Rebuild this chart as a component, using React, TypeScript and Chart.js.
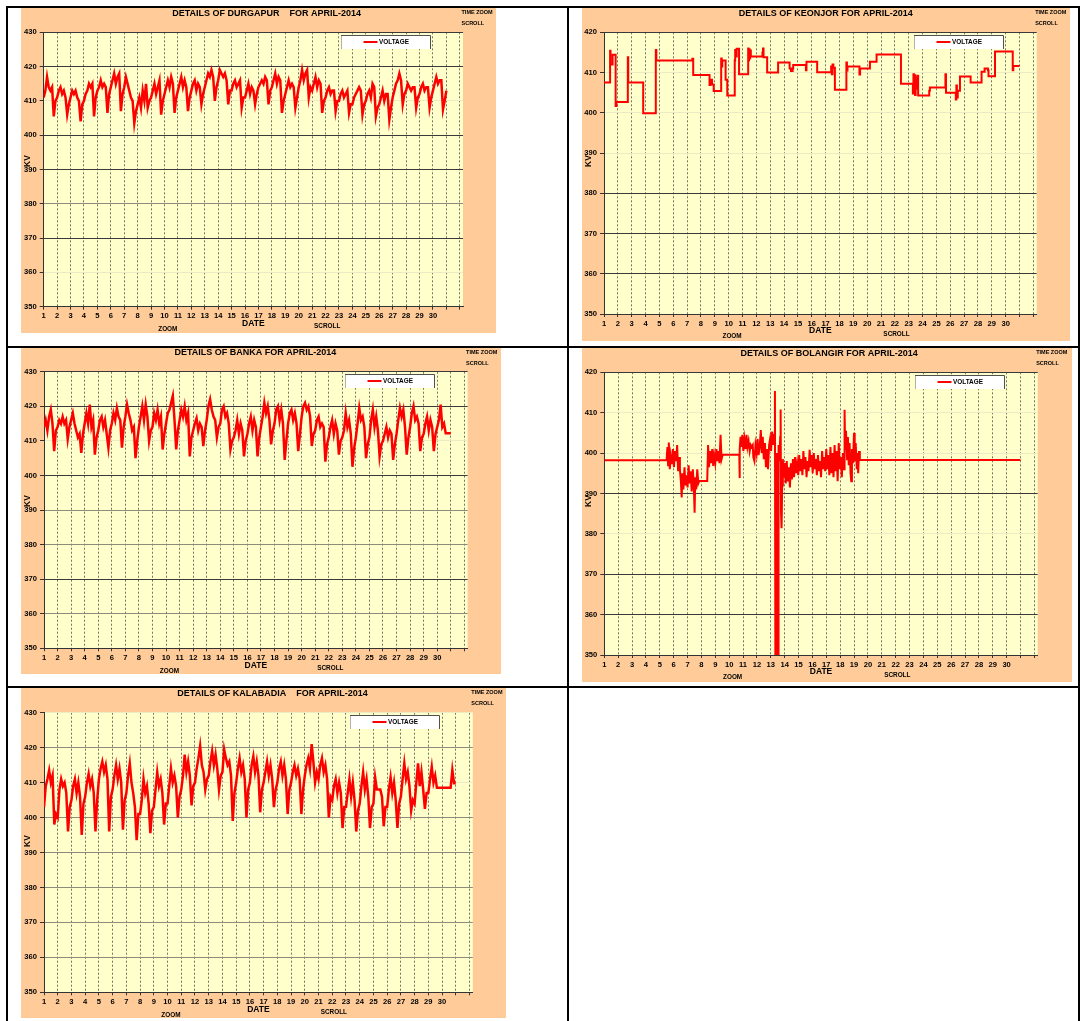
import React, { useEffect, useRef } from 'react';
import { Chart, registerables } from 'chart.js';

Chart.register(...registerables);

const FONT = 'Arial, "Liberation Sans", Helvetica, sans-serif';

// ---------- axis / tick data ----------
const X_TICK_LABELS = ['1','2','3','4','5','6','7','8','9','10','11','12','13','14','15','16','17','18','19','20','21','22','23','24','25','26','27','28','29','30'];
const X_MIN = 1;
const X_MAX = 32.24;
const SAMPLES_PER_DAY = 8; // readings every 3 hours, from 1 April 00:00

// ---------- series values (kV) ----------
const DURGAPUR_KV = [
  411, 413, 417, 414, 413, 414, 405.5, 410,
  411, 413, 414, 412, 413, 411, 406, 409,
  411, 413, 412, 413, 411, 410, 404, 409,
  410, 412, 413, 415, 414, 415, 405.5, 411,
  413, 414, 416, 414, 415, 414, 406.5, 412,
  414, 416, 418, 415, 417, 418, 407, 412,
  414, 417, 415, 413, 411, 410, 403.5, 407,
  409, 411, 408, 413, 410, 415, 408, 410,
  411, 413, 415, 412, 414, 416, 406, 410,
  412, 414, 416, 414, 417, 415, 406.5, 411,
  413, 415, 417, 414, 416, 414, 407, 411,
  413, 415, 416, 413, 415, 414, 409, 412,
  414, 416, 418, 417, 419, 417, 410, 414,
  416, 419, 418, 417, 418, 416, 409, 413,
  413, 415, 416, 414, 415, 416, 408, 411,
  411, 413, 415, 412, 414, 413, 409, 412,
  414, 415, 416, 415, 417, 416, 409, 413,
  414, 416, 418, 415, 417, 416, 406.5, 410,
  412, 414, 416, 414, 415, 414, 408, 411,
  414, 416, 419, 416, 418, 419, 411, 414,
  413, 415, 417, 414, 416, 415, 406.5, 410,
  411, 413, 414, 412, 413, 413, 407, 410,
  410, 412, 413, 411, 412, 413, 406.5, 409,
  409, 411, 412, 413, 414, 413, 406, 409,
  410, 412, 413, 411, 415, 414, 405.5, 408,
  409, 411, 413, 410, 412, 412, 404.5, 408,
  411, 413, 415, 416, 418, 416, 409, 412,
  413, 415, 414, 413, 414, 414, 408, 411,
  412, 414, 415, 413, 414, 414, 408, 411,
  413, 415, 417, 415, 416, 416, 407.5, 410,
  413,
];

const BANKA_KV = [
  414, 416, 413, 417, 419, 415, 407, 413,
  414, 416, 415, 417, 415, 416, 410.5, 414,
  416, 418, 415, 413, 411, 412, 406.5, 412,
  415, 418, 415, 420.5, 414, 416, 406, 411,
  413, 416, 417, 414, 416, 412, 408, 413,
  415, 418, 416, 419.5, 417, 416, 408, 414,
  417, 420.5, 418, 416, 413, 414, 405, 410,
  414, 417, 420, 416, 420.5, 417, 410, 413,
  414, 418, 416, 419, 415, 417, 407.5, 412,
  415, 418, 419, 421, 423, 416, 407.5, 413,
  416, 419, 417, 420, 416, 418, 405.5, 411,
  413, 415, 416.5, 413, 415, 414, 408.5, 413,
  416, 420, 422, 419, 417, 416, 411, 414,
  415, 419, 420, 417, 418, 415, 407.5, 410,
  411, 413, 416, 412, 415, 413, 405.5, 410,
  412, 415, 417, 413, 416, 414, 405.5, 411,
  414, 417, 421, 418, 420, 416, 409, 413,
  415, 419, 420, 416, 419, 415, 404.5, 410,
  415, 418, 419, 416, 418, 415, 407, 412,
  417, 420, 421, 419, 420, 417, 408.5, 412,
  413, 416, 417, 414, 415, 414, 404, 409,
  411, 414, 416, 412, 415, 413, 406, 410,
  411, 413, 418, 414, 416, 412, 402.5, 408,
  411, 415, 419.5, 416, 417, 414, 405, 409,
  411, 416, 419, 414, 417, 413, 405.5, 409,
  410, 412, 414, 411, 413, 412, 404.5, 409,
  412, 416, 419.5, 417, 419, 414, 406, 411,
  414, 418, 420, 416, 417, 415, 407, 411,
  412, 415, 417, 413, 416, 414, 407, 412,
  414, 416, 420.5, 414, 415, 412.2, 412.2, 412.2,
  412.2,
];

const KALABADIA_KV = [
  403, 409, 411, 413.5, 410, 412, 398, 401,
  400, 408, 411, 409, 410, 407, 396, 403,
  405, 409, 411, 407, 410, 406, 395, 404,
  406, 410, 412.5, 409, 411, 407, 396, 405,
  411, 414, 416, 413, 415, 411, 396, 406,
  408, 412, 415, 411, 414, 410, 396.5, 405,
  407, 412, 415.5, 410, 407, 403, 393.5, 401,
  401, 405, 411, 407, 409, 404, 395.5, 402,
  403, 408, 413, 409, 411, 407, 398, 404,
  404, 409, 414, 410, 412, 409, 400, 406,
  408, 412, 418, 413, 416, 412, 403.5, 409,
  410, 414, 417, 420.5, 415, 413, 408, 411,
  412, 416, 419, 415, 418, 414, 408, 412,
  413, 419.5, 417, 415, 416, 412, 399, 407,
  410, 414, 417, 413, 415, 411, 400, 408,
  410, 415, 417.5, 413, 416, 412, 401.5, 408,
  410, 413, 416, 412, 415, 411, 403, 408,
  410, 414, 416, 412, 415, 411, 401, 408,
  410, 413, 415, 412, 414, 411, 401, 408,
  412, 415, 417, 414, 421, 416, 410, 413,
  411, 415, 417, 413, 415, 411, 400, 406,
  405, 409, 411, 407, 410, 407, 397, 403,
  403, 407, 411, 406, 410, 405, 396, 402,
  404, 409, 413, 408, 411, 406, 397, 403,
  404, 411.5, 408, 408, 408, 406, 397.5, 403,
  403, 408, 411.5, 407, 410, 405, 397, 404,
  406, 411, 415.5, 411, 413, 409, 402, 405,
  404, 410, 415.5, 409, 413, 408, 402.5, 407,
  407, 411, 414.5, 410, 412, 408.5, 408.5, 408.5,
  408.5, 408.5, 408.5, 408.5, 408.5, 408.5, 413.6, 409.8,
  409.8,
];

// [day, kV] : each value holds until the next day mark (step line)
const KEONJOR_STEPS: [number, number][] = [
  [1.00, 407.5], [1.44, 415.4], [1.47, 412.0], [1.62, 414.4], [1.84, 401.7], [1.90, 402.7],
  [2.72, 413.8], [2.75, 407.5], [3.83, 399.9], [4.74, 415.6], [4.78, 413.0], [7.38, 413.4],
  [7.44, 409.4], [8.62, 406.9], [8.68, 408.2], [8.80, 407.0], [8.92, 405.4], [9.46, 413.5],
  [9.50, 411.5], [9.54, 413.0], [9.78, 408.2], [9.90, 404.3], [10.44, 413.0], [10.47, 415.6],
  [10.55, 414.0], [10.58, 415.9], [10.75, 409.6], [11.41, 416.0], [11.44, 413.0], [11.47, 415.8],
  [11.51, 413.5], [11.55, 415.5], [11.60, 414.0], [12.44, 415.0], [12.48, 416.0], [12.52, 413.8],
  [12.78, 410.0], [13.57, 412.5], [14.40, 411.0], [14.50, 410.4], [14.62, 411.0], [14.66, 411.9],
  [15.58, 410.6], [15.62, 412.7], [16.39, 410.1], [17.40, 411.5], [17.45, 409.6], [17.50, 412.0],
  [17.56, 411.2], [17.67, 405.7], [18.50, 412.5], [18.54, 410.5], [18.58, 411.5], [19.44, 409.5],
  [19.49, 411.0], [20.20, 412.7], [20.68, 414.5], [22.44, 407.2], [23.30, 404.8], [23.34, 409.6],
  [23.38, 405.0], [23.42, 409.3], [23.46, 404.4], [23.50, 408.8], [23.55, 406.0], [23.62, 409.2],
  [23.68, 404.3], [24.48, 405.5], [24.53, 406.3], [25.65, 409.6], [25.69, 405.0], [26.40, 403.3],
  [26.44, 406.8], [26.48, 403.8], [26.54, 405.5], [26.70, 409.0], [27.47, 407.5], [28.26, 410.2],
  [28.48, 411.0], [28.72, 410.6], [28.76, 409.1], [29.23, 415.2], [30.51, 410.6], [30.55, 411.6],
  [31.00, 411.6],
];

// [day, kV]
const BOLANGIR_POINTS: [number, number][] = [
  [1, 398.2], [5.49, 398.2],
  [5.55, 401.5], [5.6, 397], [5.65, 402.6], [5.72, 396], [5.8, 399.5], [5.88, 397.5], [5.95, 401],
  [6.02, 396.5], [6.1, 400.5], [6.18, 398], [6.25, 402], [6.32, 395.5], [6.4, 399], [6.45, 396],
  [6.52, 393], [6.58, 389], [6.63, 395], [6.7, 391], [6.78, 396.5], [6.85, 392], [6.92, 394.5],
  [7.0, 391.5], [7.08, 397], [7.15, 392.5], [7.22, 395.5], [7.3, 390.5], [7.38, 396], [7.45, 392],
  [7.51, 385.2], [7.56, 394], [7.62, 391], [7.7, 396], [7.78, 392.5], [7.85, 393.1], [8.42, 393.1],
  [8.48, 402], [8.55, 396.5], [8.62, 400.5], [8.7, 397.5], [8.78, 401], [8.85, 396.8], [8.92, 399.5],
  [9.0, 397.5], [9.08, 401], [9.15, 398], [9.22, 400.5], [9.3, 397.5], [9.38, 404.5], [9.45, 398.5],
  [9.53, 399.6], [10.73, 399.6], [10.74, 393.8],
  [10.78, 401], [10.82, 404], [10.88, 401.5], [10.95, 404.5], [11.02, 400.5], [11.1, 403.5],
  [11.18, 401], [11.25, 404.5], [11.32, 401.5], [11.4, 403], [11.48, 400.5], [11.55, 402],
  [11.62, 401.5], [11.7, 402], [11.74, 399], [11.82, 398], [11.9, 402], [11.98, 400],
  [12.05, 403.5], [12.12, 399.5], [12.2, 401.5], [12.28, 405.7], [12.35, 400], [12.42, 404],
  [12.5, 398.5], [12.58, 402.5], [12.65, 396.5], [12.72, 401], [12.8, 396], [12.88, 402],
  [12.95, 403.5], [13.02, 400.5], [13.1, 405.3], [13.18, 402], [13.25, 404.5], [13.3, 415.4],
  [13.33, 350], [13.36, 395], [13.38, 350], [13.41, 400], [13.43, 350], [13.46, 398], [13.48, 350],
  [13.51, 396], [13.53, 350], [13.56, 402], [13.62, 398], [13.68, 404], [13.71, 410.8], [13.74, 385],
  [13.78, 381.4], [13.82, 392], [13.87, 398.5], [13.92, 394], [14.0, 397.5], [14.08, 392.5],
  [14.15, 398], [14.22, 393], [14.3, 396.5], [14.38, 391.5], [14.45, 397.5], [14.52, 393.5],
  [14.6, 398.5], [14.68, 394], [14.75, 399], [14.82, 395], [14.9, 397.5], [14.98, 394.5],
  [15.05, 399.5], [15.12, 395.5], [15.2, 398.5], [15.28, 394.5], [15.35, 400.5], [15.42, 396],
  [15.5, 399], [15.58, 394], [15.65, 398], [15.72, 395.5], [15.8, 400.8], [15.88, 396.5],
  [15.95, 399.5], [16.02, 395], [16.1, 400], [16.18, 396], [16.25, 398.5], [16.32, 394.5],
  [16.4, 399.5], [16.48, 395.5], [16.55, 398], [16.62, 394], [16.7, 400.5], [16.78, 396],
  [16.85, 399], [16.92, 395.5], [17.0, 401], [17.08, 396], [17.15, 399.5], [17.22, 394.5],
  [17.3, 401.5], [17.38, 395], [17.45, 400], [17.52, 394], [17.6, 402], [17.68, 395.5],
  [17.75, 400.5], [17.82, 393], [17.9, 402.5], [17.98, 396], [18.05, 399], [18.12, 394],
  [18.2, 400], [18.28, 396], [18.32, 410.7], [18.36, 401], [18.42, 405.5], [18.5, 398.5],
  [18.56, 404], [18.62, 397], [18.68, 402.5], [18.75, 395], [18.8, 393], [18.85, 401],
  [18.92, 397.5], [19.0, 405], [19.05, 398], [19.12, 402.5], [19.2, 396], [19.25, 400],
  [19.3, 395], [19.36, 400.5], [19.42, 398.3], [31, 398.3],
];

// ---------- panel layout / styling ----------
type Tone = 's' | 'm' | 'f';
type PanelCfg = {
  key: string;
  title: string;
  titleX: number;
  titleY: number;
  box: { left: number; top: number; width: number; height: number };
  plot: { left: number; top: number; right: number; bottom: number };
  yMin: number;
  yMax: number;
  tones: Record<number, Tone>;
  points: { x: number; y: number }[];
  stepped: boolean;
  lineWidth: number;
};

const sampled = (vals: number[]) => vals.map((v, i) => ({ x: X_MIN + i / SAMPLES_PER_DAY, y: v }));
const paired = (vals: [number, number][]) => vals.map(([x, y]) => ({ x, y }));

const PANELS: PanelCfg[] = [
  {
    key: 'durgapur', title: 'DETAILS OF DURGAPUR    FOR APRIL-2014', titleX: 245.6, titleY: 5.6,
    box: { left: 21, top: 8, width: 475, height: 325 },
    plot: { left: 22.7, top: 24.3, right: 33, bottom: 26.3 },
    yMin: 350, yMax: 430,
    tones: { 430: 's', 420: 's', 410: 'f', 400: 's', 390: 's', 380: 'm', 370: 's', 360: 'f', 350: 's' },
    points: sampled(DURGAPUR_KV), stepped: false, lineWidth: 2.5,
  },
  {
    key: 'keonjor', title: 'DETAILS OF KEONJOR FOR APRIL-2014', titleX: 243.8, titleY: 5.6,
    box: { left: 582, top: 8, width: 488, height: 333 },
    plot: { left: 22, top: 24.3, right: 33.3, bottom: 27 },
    yMin: 350, yMax: 420,
    tones: { 420: 's', 410: 'f', 400: 'f', 390: 'f', 380: 's', 370: 's', 360: 's', 350: 's' },
    points: paired(KEONJOR_STEPS), stepped: true, lineWidth: 2,
  },
  {
    key: 'banka', title: 'DETAILS OF BANKA FOR APRIL-2014', titleX: 234.3, titleY: 5,
    box: { left: 21, top: 348, width: 480, height: 326 },
    plot: { left: 23, top: 23.7, right: 33.4, bottom: 25.7 },
    yMin: 350, yMax: 430,
    tones: { 430: 's', 420: 's', 410: 'f', 400: 's', 390: 'm', 380: 'm', 370: 's', 360: 'm', 350: 's' },
    points: sampled(BANKA_KV), stepped: false, lineWidth: 2.5,
  },
  {
    key: 'bolangir', title: 'DETAILS OF BOLANGIR FOR APRIL-2014', titleX: 247.2, titleY: 5.6,
    box: { left: 582, top: 348, width: 490, height: 334 },
    plot: { left: 22.3, top: 24.3, right: 34.3, bottom: 27 },
    yMin: 350, yMax: 420,
    tones: { 420: 's', 410: 'f', 400: 'f', 390: 's', 380: 'f', 370: 's', 360: 's', 350: 's' },
    points: paired(BOLANGIR_POINTS), stepped: false, lineWidth: 2,
  },
  {
    key: 'kalabadia', title: 'DETAILS OF KALABADIA    FOR APRIL-2014', titleX: 251.5, titleY: 6,
    box: { left: 21, top: 688, width: 485, height: 330 },
    plot: { left: 23, top: 24.7, right: 33.2, bottom: 25.7 },
    yMin: 350, yMax: 430,
    tones: { 430: 'f', 420: 'm', 410: 'f', 400: 'm', 390: 'm', 380: 'm', 370: 'm', 360: 'm', 350: 's' },
    points: sampled(KALABADIA_KV), stepped: false, lineWidth: 2.5,
  },
];

const TONE_COLOR: Record<Tone, string> = { s: '#3a3a3a', m: '#8c8c7c', f: '#ecebc4' };

function decorPlugin(p: PanelCfg) {
  return {
    id: 'decor_' + p.key,
    beforeDraw(chart: any) {
      const { ctx, chartArea: a } = chart;
      ctx.save();
      ctx.fillStyle = '#FFFFCC';
      ctx.fillRect(a.left, a.top, a.right - a.left, a.bottom - a.top);
      ctx.restore();
    },
    afterDraw(chart: any) {
      const { ctx, chartArea: a } = chart;
      const w = a.right - a.left;
      ctx.save();
      ctx.fillStyle = '#000';
      ctx.textBaseline = 'middle';
      ctx.textAlign = 'center';
      ctx.font = `bold 9px ${FONT}`;
      ctx.fillText(p.title, p.titleX, p.titleY);

      ctx.textAlign = 'left';
      ctx.font = `bold 5.5px ${FONT}`;
      ctx.fillText('TIME ZOOM', a.right - 1.5, 4.8);
      ctx.fillText('SCROLL', a.right - 1.5, 15.4);

      ctx.textAlign = 'center';
      ctx.font = `bold 8.5px ${FONT}`;
      ctx.fillText('DATE', a.left + w / 2, a.bottom + 17);
      ctx.font = `bold 6.4px ${FONT}`;
      ctx.fillText('ZOOM', a.left + 0.296 * w, a.bottom + 22.6);
      ctx.fillText('SCROLL', a.left + 0.676 * w, a.bottom + 19.8);

      ctx.save();
      ctx.translate(6.2, 153);
      ctx.rotate(-Math.PI / 2);
      ctx.font = `bold 8.5px ${FONT}`;
      ctx.fillText('KV', 0, 0);
      ctx.restore();

      // legend box
      const lw = 90, lh = 14;
      const lx = Math.round(a.right - 32.5 - lw);
      const ly = Math.round(a.top + 2.3);
      ctx.fillStyle = '#ffffff';
      ctx.fillRect(lx, ly, lw, lh);
      ctx.lineWidth = 1;
      ctx.strokeStyle = '#b0b0b0';
      ctx.beginPath();
      ctx.moveTo(lx + 0.5, ly + lh);
      ctx.lineTo(lx + 0.5, ly + 0.5);
      ctx.stroke();
      ctx.strokeStyle = '#505050';
      ctx.beginPath();
      ctx.moveTo(lx, ly + 0.5);
      ctx.lineTo(lx + lw - 0.5, ly + 0.5);
      ctx.lineTo(lx + lw - 0.5, ly + lh);
      ctx.stroke();
      ctx.strokeStyle = '#ff0000';
      ctx.lineWidth = 2;
      ctx.beginPath();
      ctx.moveTo(lx + 22.5, ly + lh / 2);
      ctx.lineTo(lx + 36.5, ly + lh / 2);
      ctx.stroke();
      ctx.fillStyle = '#000';
      ctx.textAlign = 'left';
      ctx.font = `bold 6.4px ${FONT}`;
      ctx.fillText('VOLTAGE', lx + 38, ly + lh / 2 + 0.3);
      ctx.restore();
    },
  };
}

function Panel({ cfg }: { cfg: PanelCfg }) {
  const ref = useRef<HTMLCanvasElement | null>(null);
  useEffect(() => {
    if (!ref.current) return;
    const chart = new Chart(ref.current, {
      type: 'line',
      data: {
        datasets: [
          {
            label: 'VOLTAGE',
            data: cfg.points,
            borderColor: '#ff0000',
            borderWidth: cfg.lineWidth,
            borderJoinStyle: 'miter',
            pointRadius: 0,
            tension: 0,
            fill: false,
            stepped: cfg.stepped,
          },
        ],
      },
      options: {
        animation: false,
        responsive: false,
        devicePixelRatio: 1,
        events: [],
        layout: { padding: { left: 0, top: cfg.plot.top, right: cfg.plot.right, bottom: 0 } },
        plugins: { legend: { display: false }, title: { display: false }, tooltip: { enabled: false } },
        scales: {
          x: {
            type: 'linear',
            min: X_MIN,
            max: X_MAX,
            afterFit: (s: any) => { s.height = cfg.plot.bottom; },
            ticks: {
              stepSize: 1,
              autoSkip: false,
              maxRotation: 0,
              includeBounds: false,
              padding: 2,
              color: '#000',
              font: { family: FONT, size: 7.6, weight: 'bold' },
              callback: (v: any) => {
                const n = Number(v);
                return Number.isInteger(n) && n >= 1 && n <= X_TICK_LABELS.length ? X_TICK_LABELS[n - 1] : '';
              },
            },
            grid: { color: 'rgba(70,70,70,0.75)', lineWidth: 1, tickLength: 3, tickColor: '#333' },
            border: { color: '#333', width: 1, dash: [2, 2] },
          },
          y: {
            type: 'linear',
            min: cfg.yMin,
            max: cfg.yMax,
            afterFit: (s: any) => { s.width = cfg.plot.left; },
            ticks: {
              stepSize: 10,
              padding: 3,
              color: '#000',
              font: { family: FONT, size: 7.6, weight: 'bold' },
            },
            grid: {
              color: (c: any) => TONE_COLOR[cfg.tones[c.tick?.value] || 'f'],
              lineWidth: 1,
              tickLength: 4,
              tickColor: '#333',
            },
            border: { color: '#333', width: 1 },
          },
        },
      },
      plugins: [decorPlugin(cfg)],
    } as any);
    return () => chart.destroy();
  }, [cfg]);

  const b = cfg.box;
  return (
    <div style={{ position: 'absolute', left: b.left, top: b.top, width: b.width, height: b.height, background: '#FFCC99' }}>
      <canvas ref={ref} width={b.width} height={b.height} style={{ display: 'block', width: b.width, height: b.height }} />
    </div>
  );
}

const LINES = [
  { left: 6, top: 6, width: 1074, height: 2 },
  { left: 6, top: 346, width: 1074, height: 2 },
  { left: 6, top: 686, width: 1074, height: 2 },
  { left: 6, top: 6, width: 2, height: 1015 },
  { left: 567, top: 6, width: 2, height: 1015 },
  { left: 1078, top: 6, width: 2, height: 1015 },
];

export default function App() {
  return (
    <div style={{ position: 'absolute', left: 0, top: 0, width: 1081, height: 1021, overflow: 'hidden', background: '#fff' }}>
      {PANELS.map((p) => (
        <Panel key={p.key} cfg={p} />
      ))}
      {LINES.map((l, i) => (
        <div key={i} style={{ position: 'absolute', left: l.left, top: l.top, width: l.width, height: l.height, background: '#000' }} />
      ))}
    </div>
  );
}
